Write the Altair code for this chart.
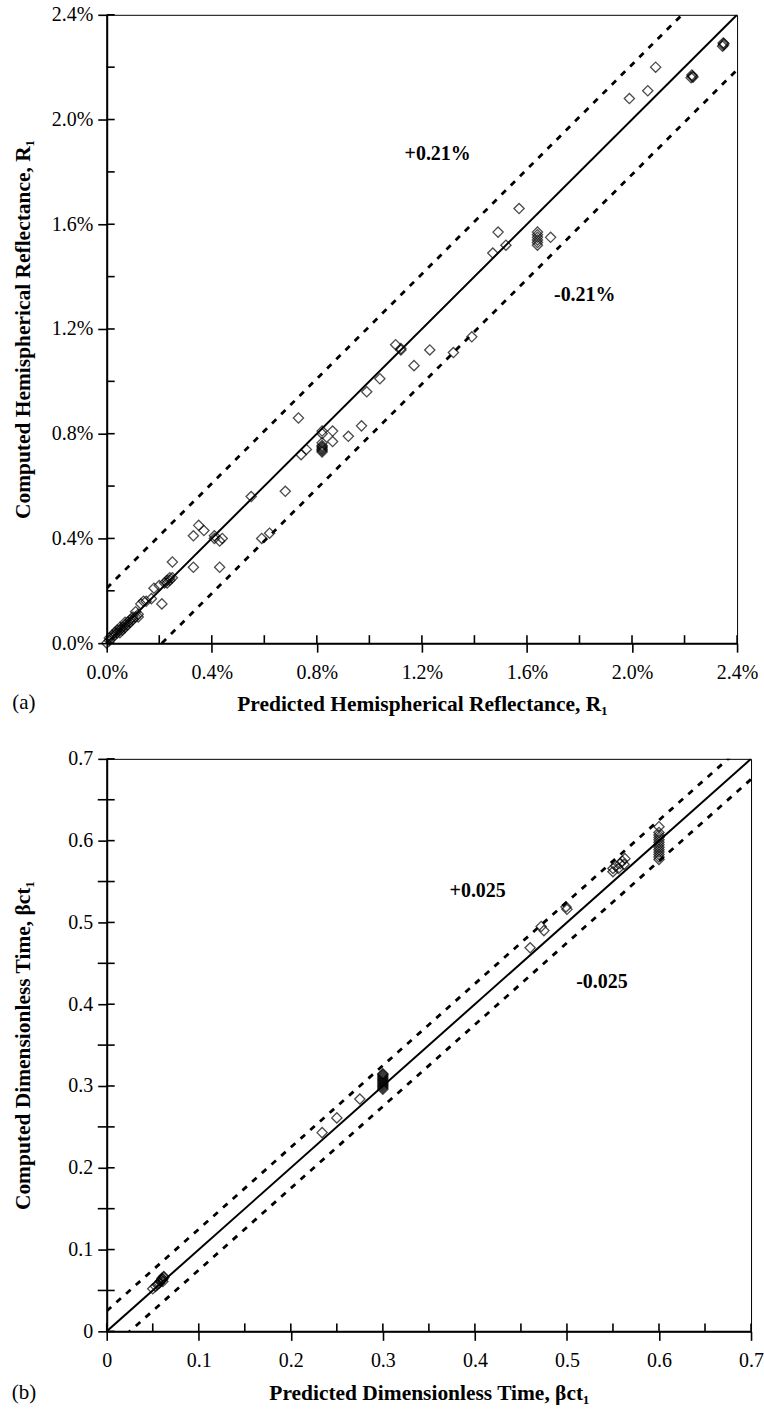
import altair as alt
import pandas as pd

FONT = "Liberation Serif"

# ---------------- Panel (a): hemispherical reflectance (percent) ----------------
a_pred = [0.00, 0.01, 0.01, 0.02, 0.02, 0.03, 0.03, 0.04, 0.04, 0.05, 0.05, 0.05, 0.06,
          0.06, 0.07, 0.07, 0.07, 0.08, 0.08, 0.09, 0.09, 0.10, 0.10, 0.11, 0.12, 0.11,
          0.12, 0.13, 0.14, 0.15, 0.17, 0.18, 0.20, 0.21, 0.22, 0.23, 0.23, 0.24, 0.24,
          0.25, 0.25,
          0.33, 0.33, 0.35, 0.37, 0.41, 0.41, 0.43, 0.44, 0.43, 0.55, 0.59, 0.62, 0.68,
          0.73, 0.74, 0.76, 0.82, 0.82, 0.82, 0.82, 0.82, 0.82, 0.82, 0.82, 0.82, 0.86,
          0.86, 0.92, 0.97, 0.99, 1.04,
          1.10, 1.12, 1.12, 1.17, 1.23, 1.32, 1.39, 1.47, 1.49, 1.52, 1.57, 1.64, 1.64,
          1.64, 1.64, 1.64, 1.64, 1.69, 1.99, 2.06, 2.09, 2.225, 2.23, 2.228, 2.232,
          2.345, 2.35, 2.348, 2.347]
a_comp = [0.00, 0.01, 0.02, 0.02, 0.03, 0.03, 0.04, 0.04, 0.05, 0.05, 0.06, 0.04, 0.05,
          0.06, 0.07, 0.08, 0.06, 0.07, 0.08, 0.08, 0.09, 0.10, 0.09, 0.10, 0.10, 0.12,
          0.11, 0.15, 0.16, 0.16, 0.17, 0.21, 0.22, 0.15, 0.23, 0.24, 0.23, 0.24, 0.25,
          0.25, 0.31,
          0.29, 0.41, 0.45, 0.43, 0.40, 0.41, 0.39, 0.40, 0.29, 0.56, 0.40, 0.42, 0.58,
          0.86, 0.72, 0.74, 0.81, 0.80, 0.765, 0.755, 0.75, 0.745, 0.74, 0.735, 0.73,
          0.81, 0.77, 0.79, 0.83, 0.96, 1.01,
          1.14, 1.12, 1.125, 1.06, 1.12, 1.11, 1.17, 1.49, 1.57, 1.52, 1.66, 1.57, 1.56,
          1.55, 1.54, 1.53, 1.52, 1.55, 2.08, 2.11, 2.20, 2.16, 2.165, 2.17, 2.162,
          2.28, 2.29, 2.285, 2.292]
a_major = [0.0, 0.4, 0.8, 1.2, 1.6, 2.0, 2.4]
a_minor = [0.2, 0.6, 1.0, 1.4, 1.8, 2.2]
a_band = 0.21
a_band_labels = ["+0.21%", "-0.21%"]
a_band_x = [1.26, 1.82]
a_band_y = [1.87, 1.33]

# ---------------- Panel (b): dimensionless time ----------------
b_pred = [0.050, 0.053, 0.055, 0.057, 0.058, 0.059, 0.060, 0.060, 0.061, 0.062, 0.062,
          0.061,
          0.234, 0.250, 0.275,
          0.300, 0.300, 0.300, 0.300, 0.300, 0.300, 0.300, 0.300, 0.300, 0.300, 0.300,
          0.300, 0.300, 0.300,
          0.460, 0.472, 0.475, 0.499, 0.500,
          0.550, 0.553, 0.556, 0.560, 0.562, 0.563, 0.550, 0.558,
          0.600, 0.600, 0.600, 0.600, 0.600, 0.600, 0.600, 0.600, 0.600, 0.600, 0.600,
          0.600, 0.600]
b_comp = [0.052, 0.055, 0.057, 0.059, 0.061, 0.062, 0.063, 0.065, 0.064, 0.066, 0.067,
          0.061,
          0.243, 0.261, 0.284,
          0.296, 0.2975, 0.299, 0.3005, 0.302, 0.3035, 0.305, 0.3065, 0.308, 0.3095,
          0.311, 0.3125, 0.314, 0.315,
          0.469, 0.495, 0.490, 0.519, 0.516,
          0.562, 0.569, 0.566, 0.575, 0.571, 0.578, 0.566, 0.572,
          0.617, 0.610, 0.607, 0.604, 0.601, 0.598, 0.595, 0.592, 0.589, 0.586, 0.583,
          0.580, 0.577]
b_major = [0.0, 0.1, 0.2, 0.3, 0.4, 0.5, 0.6, 0.7]
b_minor = [0.05, 0.15, 0.25, 0.35, 0.45, 0.55, 0.65]
b_band = 0.025
b_band_labels = ["+0.025", "-0.025"]
b_band_x = [0.403, 0.538]
b_band_y = [0.538, 0.427]

STYLE = dict(domainColor="black", domainWidth=2, tickColor="black", tickWidth=1.6,
             tickSize=9, labelFont=FONT, labelFontSize=20, labelColor="black",
             titleFont=FONT, titleFontSize=21.5, titleFontWeight="bold",
             titleColor="black", grid=False, labelFlush=False, labelOverlap=False)


def make_panel(pred, comp, major, minor, band, maxv, w, h, xtitle, ytitle, lab_expr,
               band_labels, band_x, band_y, letter, letter_y, y_minor_cross):
    sx = alt.Scale(domain=[0, maxv], nice=False, zero=False)
    sy = alt.Scale(domain=[0, maxv], nice=False, zero=False)
    ax_x = alt.Axis(title=xtitle, values=major, labelExpr=lab_expr,
                    labelPadding=10, titlePadding=12, **STYLE)
    ax_y = alt.Axis(title=ytitle, values=major, labelExpr=lab_expr,
                    labelPadding=5, titleX=-83, titleY=h / 2,
                    titleAngle=270, titleAlign="center", titleBaseline="middle", **STYLE)

    def X(f):
        return alt.X(f, type="quantitative", scale=sx, axis=ax_x)

    def Y(f):
        return alt.Y(f, type="quantitative", scale=sy, axis=ax_y)

    pts = pd.DataFrame({"p": pred, "c": comp})
    points = alt.Chart(pts).mark_point(shape="diamond", size=105, filled=False,
                                       color="black", strokeWidth=1.3).encode(
        x=X("p"), y=Y("c"))

    diag = pd.DataFrame({"p": [0, maxv], "c": [0, maxv]})
    solid = alt.Chart(diag).mark_line(color="black", strokeWidth=2, clip=True).encode(
        x=X("p"), y=Y("c"))

    up = pd.DataFrame({"p": [0, maxv], "c": [band, maxv + band]})
    lo = pd.DataFrame({"p": [0, maxv], "c": [-band, maxv - band]})
    dash_up = alt.Chart(up).mark_line(color="black", strokeWidth=2.8, strokeDash=[6, 7],
                                      clip=True).encode(x=X("p"), y=Y("c"))
    dash_lo = alt.Chart(lo).mark_line(color="black", strokeWidth=2.8, strokeDash=[6, 7],
                                      clip=True).encode(x=X("p"), y=Y("c"))

    tick_df = pd.DataFrame({"p": major + minor, "c": major + minor})
    in_x = alt.Chart(tick_df).mark_rule(color="black", strokeWidth=1.6).encode(
        x=X("p"), y=alt.value(h), y2=alt.value(h - 8))
    in_y = alt.Chart(tick_df).mark_rule(color="black", strokeWidth=1.6).encode(
        y=Y("c"), x=alt.value(0), x2=alt.value(8))

    layers = [points, solid, dash_up, dash_lo, in_x, in_y]
    if y_minor_cross:
        out_y = alt.Chart(pd.DataFrame({"c": minor})).mark_rule(
            color="black", strokeWidth=1.6).encode(
            y=Y("c"), x=alt.value(-9), x2=alt.value(0))
        layers.append(out_y)

    lab_df = pd.DataFrame({"t": band_labels, "p": band_x, "c": band_y})
    labels = alt.Chart(lab_df).mark_text(font=FONT, fontSize=20, fontWeight="bold",
                                         color="black").encode(
        x=X("p"), y=Y("c"), text="t:N")
    layers.append(labels)

    let_df = pd.DataFrame({"t": [letter]})
    let = alt.Chart(let_df).mark_text(font=FONT, fontSize=21, color="black",
                                      align="center", baseline="middle").encode(
        x=alt.value(-83), y=alt.value(letter_y), text="t:N")
    layers.append(let)

    return alt.layer(*layers).properties(width=w, height=h)


panel_a = make_panel(a_pred, a_comp, a_major, a_minor, a_band, 2.4, 632, 630,
                     "Predicted Hemispherical Reflectance, R\u2081",
                     "Computed Hemispherical Reflectance, R\u2081",
                     "format(datum.value, '.1f') + '%'",
                     a_band_labels, a_band_x, a_band_y, "(a)", 690, False)

panel_b = make_panel(b_pred, b_comp, b_major, b_minor, b_band, 0.7, 646, 574,
                     "Predicted Dimensionless Time, \u03b2ct\u2081",
                     "Computed Dimensionless Time, \u03b2ct\u2081",
                     "format(datum.value, '.1~f')",
                     b_band_labels, b_band_x, b_band_y, "(b)", 636, True)

chart = alt.vconcat(panel_a, panel_b, spacing=32).properties(
    padding={"left": 11, "top": 2, "right": 0, "bottom": 0},
    background="white",
).configure_view(stroke="black", strokeWidth=1).configure_axis(**STYLE)

chart.save("out.html", embed_options={"renderer": "svg", "actions": False})
